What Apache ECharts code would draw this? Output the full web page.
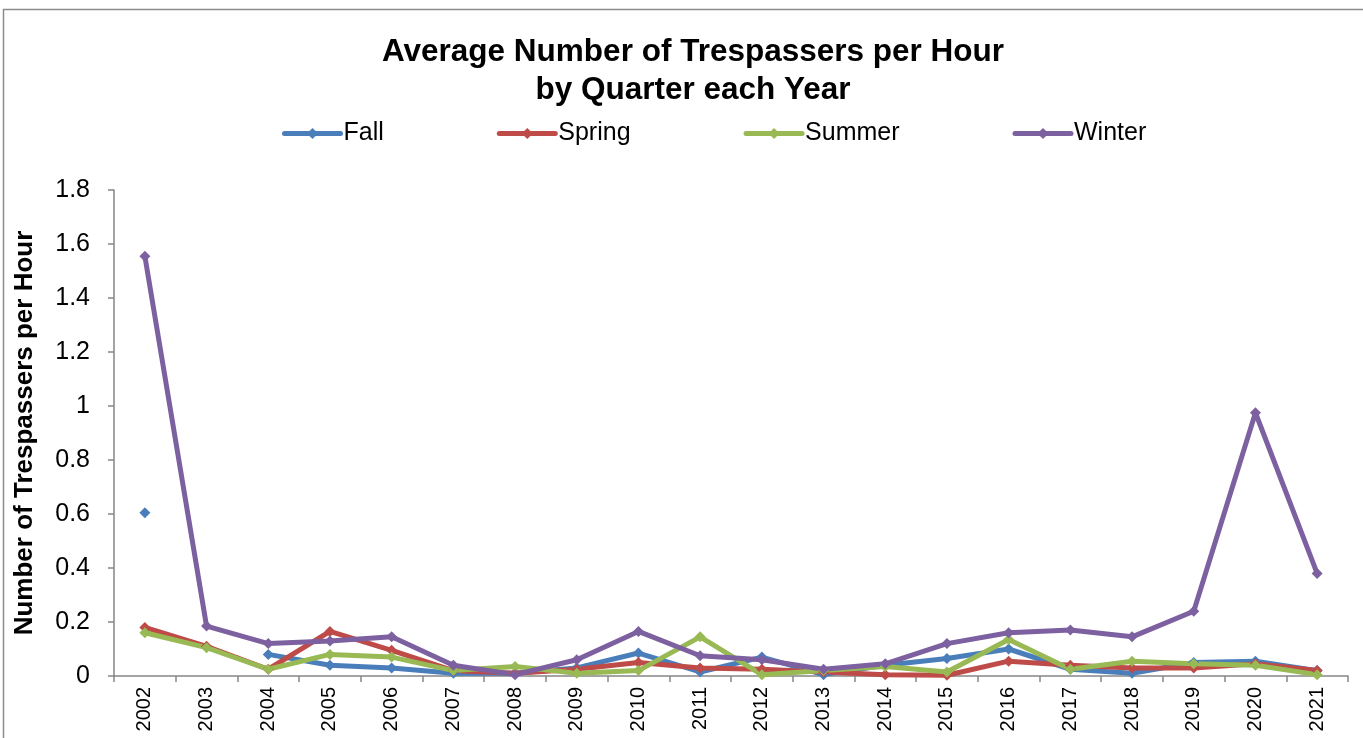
<!DOCTYPE html>
<html>
<head>
<meta charset="utf-8">
<script src="https://cdn.jsdelivr.net/npm/echarts@6/dist/echarts.min.js"></script>
<style>
  html, body { margin: 0; padding: 0; background: #fff; }
  #chart { width: 1363px; height: 738px; }
</style>
</head>
<body>
<div id="chart"></div>
<script>
  var years = ['2002', '2003', '2004', '2005', '2006', '2007', '2008', '2009', '2010', '2011',
    '2012', '2013', '2014', '2015', '2016', '2017', '2018', '2019', '2020', '2021'];

  var fall = [0.605, null, 0.08, 0.04, 0.03, 0.01, 0.01, 0.03, 0.085, 0.015,
    0.07, 0.005, 0.04, 0.065, 0.1, 0.025, 0.01, 0.05, 0.055, 0.02];
  var spring = [0.18, 0.11, 0.025, 0.165, 0.095, 0.02, 0.01, 0.025, 0.05, 0.03,
    0.025, 0.015, 0.005, 0.003, 0.055, 0.04, 0.03, 0.03, 0.045, 0.02];
  var summer = [0.16, 0.105, 0.025, 0.08, 0.07, 0.02, 0.035, 0.01, 0.02, 0.145,
    0.005, 0.02, 0.035, 0.015, 0.135, 0.025, 0.055, 0.045, 0.04, 0.005];
  var winter = [1.555, 0.185, 0.12, 0.13, 0.145, 0.04, 0.005, 0.06, 0.165, 0.075,
    0.06, 0.025, 0.045, 0.12, 0.16, 0.17, 0.145, 0.24, 0.975, 0.38];

  var font = 'Liberation Sans, Arial, sans-serif';

  function makeSeries(name, data, color) {
    return {
      name: name,
      type: 'line',
      data: data,
      symbol: 'diamond',
      symbolSize: 11,
      showAllSymbol: true,
      connectNulls: false,
      lineStyle: { width: 5, color: color },
      itemStyle: { color: color },
      emphasis: { disabled: true }
    };
  }

  var chart = echarts.init(document.getElementById('chart'));
  chart.setOption({
    animation: false,
    textStyle: { fontFamily: font },
    title: {
      text: 'Average Number of Trespassers per Hour\nby Quarter each Year',
      left: 688,
      top: 28,
      textAlign: 'center',
      textStyle: { fontSize: 31.5, fontWeight: 'bold', color: '#000', lineHeight: 38, fontFamily: font }
    },
    legend: {
      top: 116,
      left: 277,
      itemWidth: 56,
      itemHeight: 14,
      itemGap: 113,
      lineStyle: { width: 5, cap: 'round' },
      textStyle: { fontSize: 25, color: '#000', fontFamily: font, padding: [0, 0, 0, -2] },
      data: ['Fall', 'Spring', 'Summer', 'Winter']
    },
    graphic: [{
      type: 'rect',
      shape: { x: 3.5, y: 9.5, width: 1400, height: 800 },
      style: { fill: 'none', stroke: '#8c8c8c', lineWidth: 1.5 },
      silent: true
    }],
    grid: { left: 114, right: 15, top: 190, bottom: 62 },
    xAxis: {
      type: 'category',
      data: years,
      boundaryGap: true,
      axisLine: { lineStyle: { color: '#868686', width: 1.5 } },
      axisTick: { show: true, length: 6, lineStyle: { color: '#868686', width: 1.5 } },
      axisLabel: { rotate: 90, fontSize: 20, color: '#000', margin: 11, interval: 0, fontFamily: font },
      splitLine: { show: false }
    },
    yAxis: {
      type: 'value',
      min: 0,
      max: 1.8,
      interval: 0.2,
      name: 'Number of Trespassers per Hour',
      nameLocation: 'middle',
      nameGap: 76,
      nameTextStyle: { fontSize: 26, fontWeight: 'bold', color: '#000', fontFamily: font },
      axisLine: { show: true, lineStyle: { color: '#868686', width: 1.5 } },
      axisTick: { show: true, length: 6, lineStyle: { color: '#868686', width: 1.5 } },
      axisLabel: { fontSize: 25, color: '#000', margin: 24, fontFamily: font },
      splitLine: { show: false }
    },
    series: [
      makeSeries('Fall', fall, '#4A7EBB'),
      makeSeries('Spring', spring, '#BE4B48'),
      makeSeries('Summer', summer, '#98B954'),
      makeSeries('Winter', winter, '#7D60A0')
    ]
  });
</script>
</body>
</html>
